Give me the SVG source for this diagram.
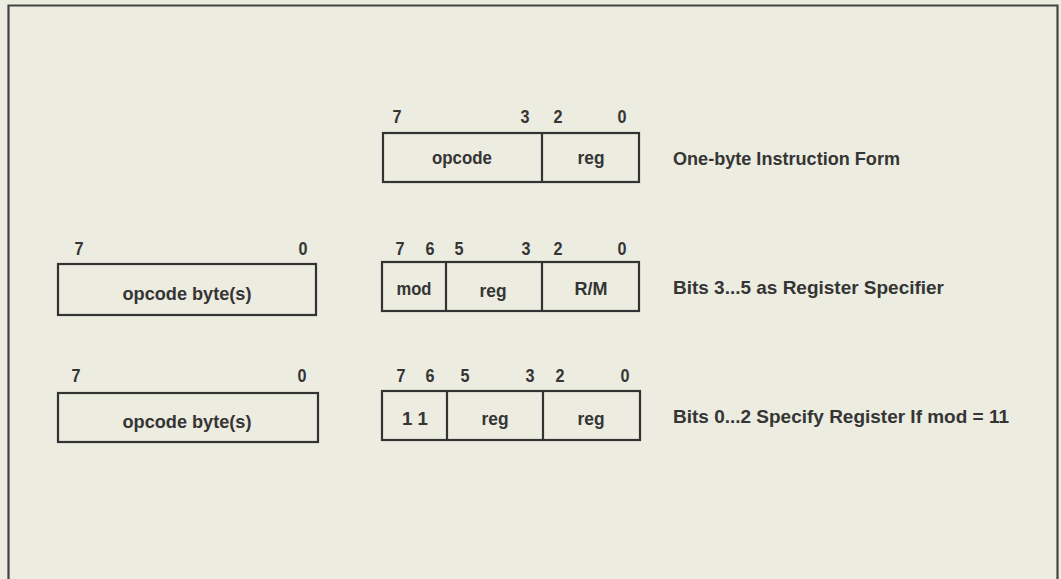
<svg xmlns="http://www.w3.org/2000/svg" width="1061" height="579" viewBox="0 0 1061 579">
<style>
text{font-family:"Liberation Sans",Arial,sans-serif;font-weight:bold;fill:#353535;}
.n{font-size:18px;text-anchor:middle;}
.f{font-size:19px;text-anchor:middle;}
.d{font-size:19px;text-anchor:start;}
.box{fill:none;stroke:#333;stroke-width:2.2;}
.div{stroke:#333;stroke-width:2.2;}
</style>
<rect x="0" y="0" width="1061" height="579" fill="#ecece0"/>
<path d="M8.5 590 V5.5 H1057.5 V590" fill="none" stroke="#444" stroke-width="2.2"/>

<g id="one-byte">
<rect class="box" x="383" y="133" width="256" height="49"/>
<line class="div" x1="542" y1="133" x2="542" y2="182"/>
<text class="n" x="397" y="123" textLength="9" lengthAdjust="spacingAndGlyphs">7</text>
<text class="n" x="525" y="123" textLength="9" lengthAdjust="spacingAndGlyphs">3</text>
<text class="n" x="558" y="123" textLength="9" lengthAdjust="spacingAndGlyphs">2</text>
<text class="n" x="622" y="123" textLength="9" lengthAdjust="spacingAndGlyphs">0</text>
<text class="f" x="462" y="164" textLength="60" lengthAdjust="spacingAndGlyphs">opcode</text>
<text class="f" x="591" y="164" textLength="27" lengthAdjust="spacingAndGlyphs">reg</text>
</g>
<text class="d" x="673" y="165" textLength="227" lengthAdjust="spacingAndGlyphs">One-byte Instruction Form</text>

<g id="opcode-row2">
<rect class="box" x="58" y="264" width="258" height="51"/>
<text class="n" x="79" y="255" textLength="9" lengthAdjust="spacingAndGlyphs">7</text>
<text class="n" x="303" y="255" textLength="9" lengthAdjust="spacingAndGlyphs">0</text>
<text class="f" x="187" y="300" textLength="129" lengthAdjust="spacingAndGlyphs">opcode byte(s)</text>
</g>

<g id="modrm-row2">
<rect class="box" x="382" y="262" width="257" height="49"/>
<line class="div" x1="446" y1="262" x2="446" y2="311"/>
<line class="div" x1="542" y1="262" x2="542" y2="311"/>
<text class="n" x="400" y="255" textLength="9" lengthAdjust="spacingAndGlyphs">7</text>
<text class="n" x="430" y="255" textLength="9" lengthAdjust="spacingAndGlyphs">6</text>
<text class="n" x="459" y="255" textLength="9" lengthAdjust="spacingAndGlyphs">5</text>
<text class="n" x="526" y="255" textLength="9" lengthAdjust="spacingAndGlyphs">3</text>
<text class="n" x="558" y="255" textLength="9" lengthAdjust="spacingAndGlyphs">2</text>
<text class="n" x="622" y="255" textLength="9" lengthAdjust="spacingAndGlyphs">0</text>
<text class="f" x="414" y="295" textLength="35" lengthAdjust="spacingAndGlyphs">mod</text>
<text class="f" x="493" y="297" textLength="27" lengthAdjust="spacingAndGlyphs">reg</text>
<text class="f" x="591" y="295" textLength="33" lengthAdjust="spacingAndGlyphs">R/M</text>
</g>
<text class="d" x="673" y="294" textLength="271" lengthAdjust="spacingAndGlyphs">Bits 3...5 as Register Specifier</text>

<g id="opcode-row3">
<rect class="box" x="58" y="393" width="260" height="49"/>
<text class="n" x="76" y="382" textLength="9" lengthAdjust="spacingAndGlyphs">7</text>
<text class="n" x="302" y="382" textLength="9" lengthAdjust="spacingAndGlyphs">0</text>
<text class="f" x="187" y="428" textLength="129" lengthAdjust="spacingAndGlyphs">opcode byte(s)</text>
</g>

<g id="modrm-row3">
<rect class="box" x="382" y="391" width="258" height="49"/>
<line class="div" x1="447" y1="391" x2="447" y2="440"/>
<line class="div" x1="543" y1="391" x2="543" y2="440"/>
<text class="n" x="401" y="382" textLength="9" lengthAdjust="spacingAndGlyphs">7</text>
<text class="n" x="430" y="382" textLength="9" lengthAdjust="spacingAndGlyphs">6</text>
<text class="n" x="465" y="382" textLength="9" lengthAdjust="spacingAndGlyphs">5</text>
<text class="n" x="530" y="382" textLength="9" lengthAdjust="spacingAndGlyphs">3</text>
<text class="n" x="560" y="382" textLength="9" lengthAdjust="spacingAndGlyphs">2</text>
<text class="n" x="625" y="382" textLength="9" lengthAdjust="spacingAndGlyphs">0</text>
<text class="f" x="415" y="425" textLength="26" lengthAdjust="spacingAndGlyphs">1 1</text>
<text class="f" x="495" y="425" textLength="27" lengthAdjust="spacingAndGlyphs">reg</text>
<text class="f" x="591" y="425" textLength="27" lengthAdjust="spacingAndGlyphs">reg</text>
</g>
<text class="d" x="673" y="423" textLength="336" lengthAdjust="spacingAndGlyphs">Bits 0...2 Specify Register If mod = 11</text>
<g id="connectors"/>
</svg>
